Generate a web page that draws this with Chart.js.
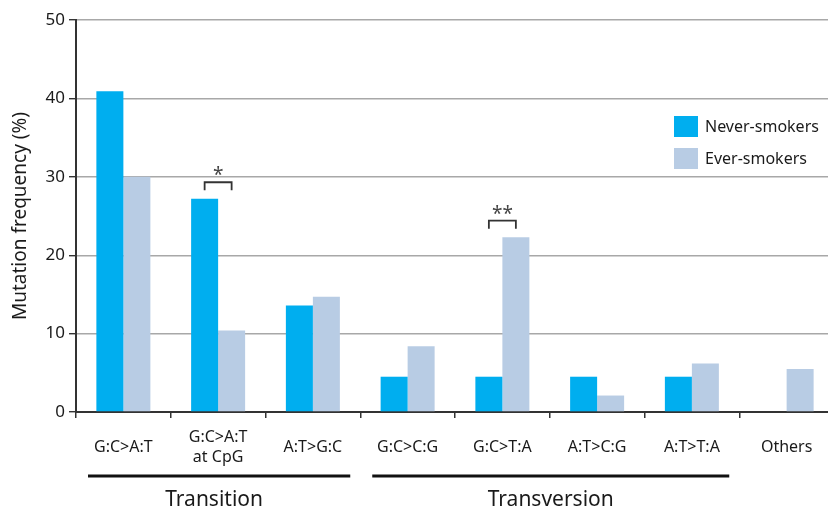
<!DOCTYPE html>
<html>
<head>
<meta charset="utf-8">
<script src="https://cdn.jsdelivr.net/npm/chart.js@4/dist/chart.umd.min.js"></script>
<style>
  html, body { margin: 0; padding: 0; overflow: hidden; background: #fff; }
  #wrap { position: relative; width: 834px; height: 506px; }
</style>
</head>
<body>
<div id="wrap"><canvas id="c" width="834" height="506"></canvas></div>
<script>
// Mutation spectrum by smoking status
const categories = ['G:C>A:T', ['G:C>A:T', 'at CpG'], 'A:T>G:C', 'G:C>C:G', 'G:C>T:A', 'A:T>C:G', 'A:T>T:A', 'Others'];
const neverSmokers = [40.9, 27.2, 13.6, 4.5, 4.5, 4.5, 4.5, 0];
const everSmokers = [30.0, 10.4, 14.7, 8.4, 22.3, 2.1, 6.2, 5.5];
const yTicks = [0, 10, 20, 30, 40, 50];

// category groups drawn under the axis
const groupNames = ['Transition', 'Transversion'];
const groupFirst = [0, 3];
const groupLast = [2, 6];

// significance markers between the two bars of a category
const sigCategories = [1, 4];
const sigLabels = ['*', '**'];

const FONT = '"Noto Sans", "Open Sans", sans-serif';
const INK = '#1a1a1a';

const extras = {
  id: 'extras',
  afterDraw(chart) {
    const ctx = chart.ctx;
    const x = chart.scales.x;
    const area = chart.chartArea;
    const step = x.getPixelForValue(1) - x.getPixelForValue(0);
    ctx.save();

    // group rules and names
    ctx.strokeStyle = '#111';
    ctx.lineWidth = 3;
    ctx.fillStyle = INK;
    ctx.font = '21px ' + FONT;
    ctx.textAlign = 'center';
    ctx.textBaseline = 'middle';
    groupNames.forEach((name, i) => {
      const x0 = x.getPixelForValue(groupFirst[i]) - step / 2 + 12;
      const x1 = x.getPixelForValue(groupLast[i]) + step / 2 - 10;
      ctx.beginPath();
      ctx.moveTo(x0, 476);
      ctx.lineTo(x1, 476);
      ctx.stroke();
      ctx.fillText(name, (x0 + x1) / 2 - (i === 0 ? 5 : 0), 500);
    });

    // significance brackets
    const m0 = chart.getDatasetMeta(0).data;
    const m1 = chart.getDatasetMeta(1).data;
    ctx.strokeStyle = '#333';
    ctx.lineWidth = 1.8;
    ctx.font = '19px ' + FONT;
    sigCategories.forEach((c, i) => {
      const xa = m0[c].x, xb = m1[c].x;
      const topBar = Math.min(m0[c].y, m1[c].y);
      const yb = topBar - 8.5;
      const yt = yb - 8;
      ctx.beginPath();
      ctx.moveTo(xa, yb);
      ctx.lineTo(xa, yt);
      ctx.lineTo(xb, yt);
      ctx.lineTo(xb, yb);
      ctx.stroke();
      ctx.fillStyle = '#444';
      ctx.textBaseline = 'alphabetic';
      ctx.fillText(sigLabels[i], (xa + xb) / 2, yt - 1);
    });

    // y axis title
    ctx.save();
    ctx.translate(21, (area.top + area.bottom) / 2);
    ctx.rotate(-Math.PI / 2);
    ctx.fillStyle = INK;
    ctx.font = '19px ' + FONT;
    ctx.textAlign = 'center';
    ctx.textBaseline = 'middle';
    ctx.fillText('Mutation frequency (%)', 0, 0);
    ctx.restore();

    // legend
    ctx.font = '16px ' + FONT;
    ctx.textAlign = 'left';
    ctx.textBaseline = 'middle';
    chart.data.datasets.forEach((ds, i) => {
      const top = 116 + i * 32;
      ctx.fillStyle = ds.backgroundColor;
      ctx.fillRect(674, top, 24, 21);
      ctx.fillStyle = INK;
      ctx.fillText(ds.label, 705, top + 11);
    });

    ctx.restore();
  }
};

new Chart(document.getElementById('c'), {
  type: 'bar',
  data: {
    labels: categories,
    datasets: [
      { label: 'Never-smokers', data: neverSmokers, backgroundColor: '#00AEEF', borderWidth: 0 },
      { label: 'Ever-smokers', data: everSmokers, backgroundColor: '#B8CCE4', borderWidth: 0 }
    ]
  },
  options: {
    responsive: false,
    devicePixelRatio: 1,
    animation: false,
    layout: { padding: { top: 20, left: 0, right: 0, bottom: 0 } },
    datasets: { bar: { categoryPercentage: 0.57, barPercentage: 1 } },
    plugins: { legend: { display: false }, tooltip: { enabled: false } },
    scales: {
      x: {
        offset: true,
        grid: { drawOnChartArea: false, drawTicks: true, tickLength: 6, color: '#333', lineWidth: 1.5, offset: true },
        border: { display: true, color: '#333', width: 2 },
        ticks: {
          font: { family: FONT, size: 16, lineHeight: 1.25 },
          color: INK,
          padding: 19,
          crossAlign: 'center',
          maxRotation: 0,
          autoSkip: false
        },
        afterFit(s) { s.height = 94; }
      },
      y: {
        min: 0,
        max: 50,
        afterBuildTicks(s) { s.ticks = yTicks.map(v => ({ value: v })); },
        grid: { color: '#a8a8a8', lineWidth: 1.4, tickLength: 7, tickColor: '#333' },
        border: { color: '#333', width: 2 },
        ticks: { font: { family: FONT, size: 17 }, color: INK, padding: 4 },
        afterFit(s) { s.width = 76; }
      }
    }
  },
  plugins: [extras]
});
</script>
</body>
</html>
